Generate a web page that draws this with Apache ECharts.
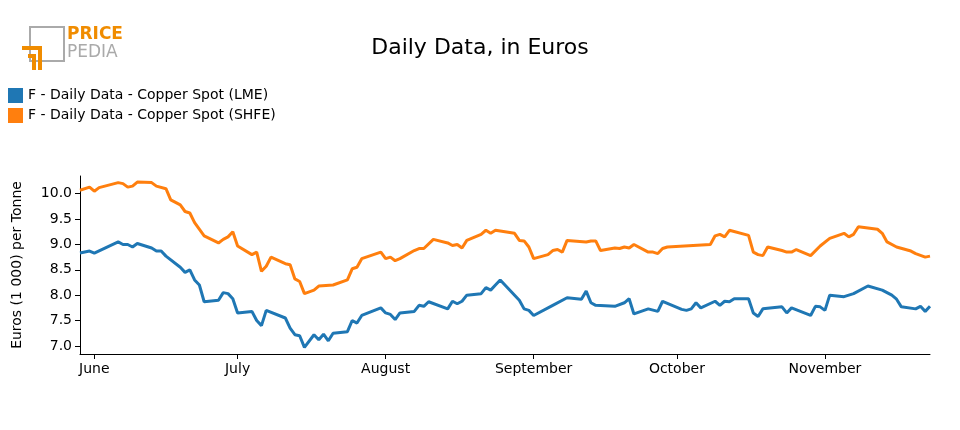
<!DOCTYPE html><html><head><meta charset="utf-8">
<script src="https://cdn.jsdelivr.net/npm/echarts@6/dist/echarts.min.js"></script>
<style>body{margin:0}#c{width:960px;height:430px}</style></head><body><div id="c"></div>
<script>
// day offsets from 2023-05-29
const lmeDays = [0,2,3,8,9,10,11,12,15,16,17,18,21,22,23,24,25,26,29,30,31,32,33,36,37,38,39,43,44,45,46,47,49,50,51,52,53,56,57,58,59,63,64,65,66,67,70,71,72,73,77,78,79,80,81,84,85,86,87,88,92,93,94,95,99,102,105,106,107,108,112,114,115,116,119,121,122,126,127,128,129,130,133,134,135,136,137,140,141,142,143,147,148,149,153,154,155,156,157,160,162,165,168,170,171,172,175,176,177,178];
const lmeVals = [8.83,8.87,8.83,9.05,9.0,9.0,8.95,9.02,8.93,8.87,8.87,8.77,8.55,8.45,8.5,8.3,8.2,7.87,7.9,8.05,8.03,7.93,7.65,7.68,7.5,7.4,7.7,7.55,7.35,7.22,7.2,6.97,7.22,7.12,7.23,7.1,7.25,7.28,7.5,7.45,7.6,7.75,7.65,7.62,7.52,7.65,7.68,7.8,7.78,7.87,7.73,7.88,7.83,7.88,8.0,8.03,8.15,8.1,8.2,8.3,7.9,7.73,7.7,7.6,7.8,7.95,7.92,8.08,7.85,7.8,7.78,7.85,7.93,7.63,7.73,7.68,7.88,7.72,7.7,7.73,7.85,7.75,7.88,7.8,7.88,7.87,7.93,7.93,7.65,7.58,7.73,7.77,7.65,7.75,7.6,7.78,7.77,7.7,8.0,7.97,8.03,8.18,8.1,8.0,7.92,7.77,7.73,7.78,7.68,7.78];
const shfeDays = [0,2,3,4,8,9,10,11,12,15,16,18,19,21,22,23,24,26,29,30,31,32,33,36,37,38,39,40,43,44,45,46,47,49,50,53,56,57,58,59,63,64,65,66,67,70,71,72,74,77,78,79,80,81,84,85,86,87,91,92,93,94,95,98,99,100,101,102,106,107,108,109,112,113,114,115,116,119,120,121,122,123,132,133,134,135,136,140,141,142,143,144,147,148,149,150,153,155,157,160,161,162,163,167,168,169,171,174,175,177,178];
const shfeVals = [10.07,10.13,10.05,10.12,10.22,10.2,10.13,10.15,10.23,10.22,10.15,10.1,9.88,9.78,9.65,9.62,9.43,9.17,9.03,9.1,9.15,9.25,8.97,8.8,8.85,8.47,8.57,8.75,8.62,8.6,8.32,8.27,8.03,8.1,8.18,8.2,8.3,8.52,8.55,8.72,8.85,8.72,8.75,8.68,8.72,8.88,8.92,8.92,9.1,9.03,8.98,9.0,8.93,9.08,9.2,9.28,9.22,9.28,9.22,9.08,9.07,8.95,8.72,8.8,8.88,8.9,8.85,9.08,9.05,9.07,9.07,8.88,8.93,8.92,8.95,8.93,9.0,8.85,8.85,8.82,8.92,8.95,9.0,9.17,9.2,9.15,9.28,9.18,8.85,8.8,8.78,8.95,8.88,8.85,8.85,8.9,8.78,8.97,9.12,9.22,9.15,9.2,9.35,9.3,9.22,9.05,8.95,8.87,8.82,8.75,8.77];
const monthDays = [3,33,64,95,125,156];
const monthNames = ['June','July','August','September','October','November'];
const yTicks = [7.0,7.5,8.0,8.5,9.0,9.5,10.0];

const chart = echarts.init(document.getElementById('c'));
const font = 'DejaVu Sans';
chart.setOption({
  animation:false,
  textStyle:{fontFamily:font},
  title:{text:'Daily Data, in Euros',left:'center',top:32,textStyle:{fontSize:22,fontWeight:'normal',color:'#000',fontFamily:font}},
  legend:{orient:'vertical',left:3,top:83,itemWidth:15,itemHeight:15,itemGap:5,icon:'rect',textStyle:{fontSize:14,color:'#000',fontFamily:font}},
  graphic:[
    {type:'rect',shape:{x:30,y:27,width:34,height:34},style:{fill:'none',stroke:'#aaa',lineWidth:2}},
    {type:'polyline',shape:{points:[[22,48],[40,48],[40,70]]},style:{fill:'none',stroke:'#f08c00',lineWidth:4}},
    {type:'polyline',shape:{points:[[28,56],[34,56],[34,70]]},style:{fill:'none',stroke:'#f08c00',lineWidth:4}},
    {type:'text',left:67,top:26,style:{text:'PRICE',fontSize:17,fontWeight:'bold',fill:'#f08c00',fontFamily:font}},
    {type:'text',left:67,top:44,style:{text:'PEDIA',fontSize:17,fill:'#aaa',fontFamily:font}}
  ],
  grid:{left:80,right:30,top:176,bottom:76},
  xAxis:{type:'value',min:lmeDays[0],max:lmeDays[lmeDays.length-1],
    axisLine:{lineStyle:{color:'#000'}},splitLine:{show:false},
    axisTick:{customValues:monthDays,length:5,lineStyle:{color:'#000'}},
    axisLabel:{customValues:monthDays,color:'#000',fontSize:14,
      formatter:v=>{const i=monthDays.indexOf(v);return i>=0?monthNames[i]:'';}}},
  yAxis:{type:'value',min:6.84,max:10.35,name:'Euros (1 000) per Tonne',nameLocation:'middle',nameGap:56,
    nameTextStyle:{fontSize:14,color:'#000'},
    axisLine:{show:true,lineStyle:{color:'#000'}},splitLine:{show:false},
    axisTick:{show:true,customValues:yTicks,lineStyle:{color:'#000'}},
    axisLabel:{customValues:yTicks,color:'#000',fontSize:14,formatter:v=>v.toFixed(1)}},
  series:[
    {name:'F - Daily Data - Copper Spot (LME)',type:'line',showSymbol:false,color:'#1f77b4',lineStyle:{width:3},
     data:lmeDays.map((d,i)=>[d,lmeVals[i]])},
    {name:'F - Daily Data - Copper Spot (SHFE)',type:'line',showSymbol:false,color:'#ff7f0e',lineStyle:{width:3},
     data:shfeDays.map((d,i)=>[d,shfeVals[i]])}
  ]
});
</script></body></html>
